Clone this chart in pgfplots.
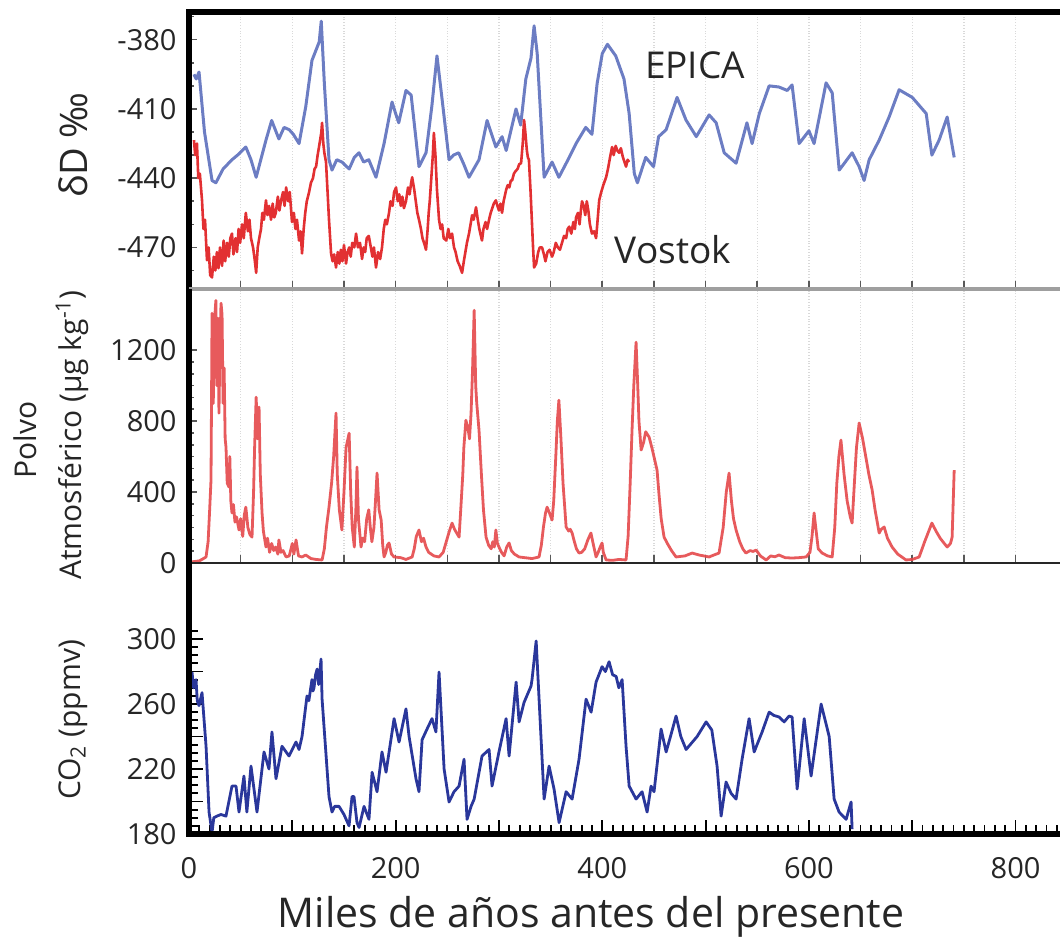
\documentclass[border=0pt]{standalone}
\usepackage{fontspec}
\setmainfont{Open Sans}
\usepackage{pgfplots}
\pgfplotsset{compat=1.18}
\definecolor{epica}{RGB}{82,102,185}
\definecolor{vostok}{RGB}{226,48,50}
\definecolor{dust}{RGB}{228,72,74}
\definecolor{cotwo}{RGB}{42,55,155}
\begin{document}
\begin{tikzpicture}
\useasboundingbox (0,0) rectangle (530pt,470.5pt);
\pgfplotsset{
  base/.style={scale only axis, width=435.5pt, xmin=0, xmax=843, clip=false,
    axis line style={draw=none},
    tick label style={font=\fontsize{14.5}{17}\selectfont, text=black!85},
    yticklabel style={anchor=east, xshift=-2.7pt},
    tick align=inside, xtick pos=left, ytick pos=left},
  upper/.style={base, xtick={0,50,...,800}, xticklabels={}, xmajorgrids,
    grid style={densely dotted, black!15, line width=0.6pt},
    major tick length=4pt, minor tick length=2.5pt,
    every tick/.style={gray!70!black, line width=0.8pt}},
}
% ---------- top panel: deuterium ----------
\begin{axis}[upper, at={(94.5pt,326pt)}, anchor=south west, height=138.5pt,
  ymin=-488, ymax=-368,
  ytick={-380,-410,-440,-470}, yticklabels={-380,-410,-440,-470},
  minor ytick={-480,-470,...,-370}]
\addplot[epica, line width=1.5pt, opacity=0.85, line join=round] coordinates {
(4.8,-395)(7,-397)(9.7,-394)(15,-420)(22.3,-441)(26,-442)(33,-436)(41.6,-432)(47,-430)(55,-426.5)(60,-432)(65,-439.6)(74.5,-423.5)
(80,-415)(87,-423)(92,-418)(97,-419)(101,-421)(106.5,-425)(113,-409)(119,-389)(126,-381)(128,-372)
(131,-399)(135.5,-432)(138.4,-436.5)(143,-432)(148,-433)(155,-436)(160,-431)(164.6,-429)(169,-433)(174,-432)(181,-439.6)
(188.8,-425)(196.5,-407)(200,-412)(203,-416)(210,-402)(215,-404)(222.6,-435)(229.4,-429)(235,-409)
(240,-387)(245,-406)(251.7,-432)(256,-430)(261,-429)(266,-434)(271,-439.6)(280.7,-432)(288.5,-415)(297,-426.5)
(303,-422)(307,-428)(316.5,-410)(321,-417)(326,-397)(331,-388)(334,-374)(337,-386)
(343.7,-439.6)(351.4,-433)(358,-439.6)(368,-431)(374.6,-425)(384,-418)(390,-421)(395,-399)
(400,-386)(405,-382)(413,-387)(421,-397)(426,-412)(431,-438)(434,-442)(442,-431)
(449.6,-435)(454.5,-422)(461.8,-419)(472.4,-405)(481,-414.8)(491,-422)(503.4,-412.6)
(510.2,-416)(518,-429)(529.5,-433.5)(540,-416)(545,-425)(552,-412)(561.5,-400)(571,-400.5)
(579,-402)(583.7,-399.6)(590.5,-425)(600,-419.5)(605,-425)(616.6,-398.7)(622.5,-403)
(629.3,-436.5)(641.8,-429)(648.6,-435)(653.4,-441)(658.3,-432)(668,-423.5)(677.6,-413.5)
(687.3,-401.7)(700,-405)(713.5,-412)(719,-430)(726,-423.5)(733.8,-413.5)(740.6,-431)
};
\addplot[vostok, line width=1.3pt, line join=round] coordinates {
(4.8,-423.5)(6,-430)(7.7,-425)(9,-440)(10.5,-438)(12.6,-449.6)(14,-462)(15.5,-458)
(17.4,-475.6)(19,-470)(20.5,-482)(22.3,-483)(24,-474)(25.5,-480)(27,-472)(28.5,-479)
(30,-470)(32,-478)(33.5,-467)(35,-476)(36.8,-468)(38.5,-474)(40,-466)(41.6,-464)
(43,-473)(45,-466)(46.5,-472)(48,-462)(49.5,-468)(51.3,-460)(53,-466)(55,-455)
(57,-463)(58.5,-458)(60,-466)(62,-470)(63.5,-475)(65,-481)(66.5,-470)(68,-466)
(69.7,-462)(71,-455)(72.5,-458)(74.5,-449.6)(76,-456)(77.5,-452)(79.4,-458)(81,-451)
(82.5,-457)(84,-455)(86,-448)(87.5,-454)(89,-450)(91,-446)(92.5,-452)(94,-444)
(96,-450)(97.5,-446)(99.7,-459)(101.5,-455)(103,-462)(104.5,-458)(106.5,-467)(108,-463)
(109.4,-472.6)(111,-462)(112.5,-455)(114,-450)(116,-446.5)(118,-442)(120,-440)(121.5,-436)
(123,-435)(124.5,-430)(126,-426)(128,-420.4)(128.8,-416)(130,-425)(131,-429)(132.6,-433)
(134,-445)(135.5,-458)(137.5,-472.6)(139,-476)(140.5,-473)(142.3,-478.7)(144,-472)(145.5,-477)
(147,-471)(148.5,-476)(150,-469)(152,-477)(153.5,-472)(155,-470)(156.5,-474)(158,-468)
(160,-470)(161.7,-464)(163.5,-470)(165.5,-468)(167.5,-475)(169,-470)(170.5,-472)(172,-466)
(174,-465)(176,-470)(177.5,-474)(179,-470)(181,-478.7)(183,-472)(185,-475)(186.8,-470)
(188.5,-462)(190,-458)(191.5,-460)(193.6,-455)(195,-450)(197,-452)(198.5,-446)(200.4,-444)
(202,-450)(203.5,-447)(205,-452)(206.5,-448)(208,-453)(210,-450)(212,-444)(213.5,-447)
(215,-442)(216,-439.6)(218,-445)(219.5,-450)(221,-455)(222.6,-458)(224.5,-462)(226,-466)
(227.5,-468)(229.4,-471)(231,-462)(232,-455)(233,-450)(234.5,-440)(236,-430)(237,-420.4)
(238.5,-430)(240,-445)(242,-458)(243.5,-462)(245,-460)(246.5,-466)(249,-467)(251,-462)
(252.5,-466)(254.6,-464)(256.5,-470)(258,-472)(260,-476)(262,-478)(264.3,-481)(266,-476)
(267.5,-472)(269,-468)(271,-464)(272.5,-460)(274,-456)(275.5,-458)(277.8,-452.6)(279.5,-458)
(281,-462)(282.5,-465)(283.6,-467)(285,-462)(287,-459)(288.5,-462)(290.4,-458)(292,-455)
(293.5,-453)(295,-451)(297,-449.6)(298.5,-452)(300,-454)(301.5,-451)(303,-455)(304.5,-450)
(306,-447)(307,-445)(308.5,-443)(310,-444)(311.5,-441)(312.7,-441)(314.5,-438)(316,-437)
(318,-436)(319.5,-434)(321.4,-433.5)(323,-425)(324.3,-414.8)(325.5,-420)(327,-428)(328,-431)
(329,-432)(330.5,-445)(332,-460)(333,-470)(334,-478.7)(336,-477)(338,-472)(339.5,-470)
(341.7,-470)(343.5,-473)(345,-476)(347,-472)(349,-471)(351.4,-474)(353,-472)(355,-468)
(357,-470)(359,-471)(361,-468)(363,-465)(365,-466)(366.5,-462)(368,-461)(370,-464)
(372,-459)(373.5,-462)(374.6,-457)(376.5,-455)(378,-460)(379.5,-453)(380.4,-450)(382,-452)
(383.5,-456)(385,-450)(386.5,-454)(388,-460)(390,-464)(392,-463)(394,-466)(395.5,-458)
(397,-449.6)(399,-446)(401,-443)(403.7,-439.6)(405.5,-436)(407.5,-431)(409.5,-426.5)(411,-430)
(413,-426)(414.5,-428)(416.3,-429)(418,-427)(420,-431)(421.5,-433)(423,-435)(424.5,-432)(426,-433)
};
\draw[line width=3pt, line cap=rect] (rel axis cs:0,0) -- (rel axis cs:0,1) -- (rel axis cs:1,1);
\draw[line width=1.6pt, gray!75] (rel axis cs:0,0) -- (rel axis cs:1,0);
\end{axis}
% ---------- middle panel: dust ----------
\begin{axis}[upper, at={(94.5pt,189pt)}, anchor=south west, height=137pt,
  ymin=0, ymax=1545,
  ytick={0,400,800,1200}, yticklabels={0,400,800,1200}, minor y tick num=5]
\addplot[dust, line width=1.4pt, opacity=0.9, line join=round] coordinates {
(0,5)(5,8)(10,12)(14,25)(16.5,34)(18.5,120)(20,300)(21.3,468)(22,1100)(22.3,1408)(23.5,900)
(24.5,1350)(26,1480)(27,1000)(28,1380)(29,845)(30,1250)(31,1465)(32,1400)(33,900)(34,1100)
(35,700)(35.8,654)(37,450)(38.7,428)(39.5,600)(40.5,350)(41.6,282)(43,330)(44.5,230)(46,260)
(48.4,186)(50,250)(52,150)(53.5,270)(55,315)(57,200)(59,160)(61,146)(62.5,400)(63.5,650)
(65,935)(66.5,700)(67.8,879)(69,500)(70.7,282)(72,180)(74.5,90)(76,140)(78,60)(80,110)
(82,70)(84,90)(86,50)(87,130)(89,60)(91,70)(94,34)(97,40)(100,110)(101.5,50)(103.6,130)
(106,40)(109.4,34)(113,45)(118,25)(123,20)(128.8,17)(131,80)(133,200)(135.5,315)(138,450)
(140,600)(142.3,845)(143.5,500)(145.5,300)(148,186)(150,400)(152,650)(155,732)(156.5,400)
(158,200)(160,90)(161.5,300)(162.6,541)(164,250)(166.5,90)(168,140)(170,120)(172,250)
(174,300)(175.5,200)(177,120)(179,200)(180.5,350)(182,507)(184,300)(186,242)(187.5,100)
(188.8,34)(190.5,60)(192,100)(193.6,113)(196,50)(198.5,34)(205,30)(210,20)(216,34)(218,80)
(220,150)(222.6,186)(225,120)(227,140)(229.4,90)(232,60)(237,40)(242,34)(246,60)(249,120)
(252,180)(254.6,225)(257,190)(259,170)(261.4,146)(263,300)(265,500)(266,650)(268,805)
(270,760)(271.5,700)(273,845)(274.5,1100)(276,1425)(277.5,1000)(278.5,900)(280.7,749)
(283,500)(285,300)(287.5,146)(290,100)(292.5,80)(294,120)(295.5,90)(297,186)(298.5,110)
(300,90)(302.5,60)(305,40)(307.5,90)(309.8,113)(312,70)(315,50)(319.5,34)(325,30)(332,25)
(338.8,34)(341,100)(343,200)(345,280)(346.6,315)(349,280)(351.4,242)(353,350)(355,600)
(356.5,800)(358,918)(360,700)(362,450)(365,203)(367.5,180)(369,190)(370.8,169)(373,120)
(375,80)(377.5,56)(380,60)(383,80)(386,130)(389,169)(391.5,100)(394,34)(396,60)(398,90)
(399.8,113)(401,60)(403.7,17)(410,15)(416,20)(423,17)(425,150)(427,450)(428.8,749)(430.5,1000)
(432.7,1245)(434,1050)(435.5,800)(437.6,637)(440,680)(442,740)(445.3,710)(448,650)(450,600)
(453,524)(455,380)(457,250)(459.8,146)(463,110)(467,70)(471.4,34)(480,40)(487,56)(493.7,45)
(503.4,34)(508,45)(513,56)(517,200)(520,400)(522.7,507)(525,350)(527,250)(529.5,186)(533,120)
(536,80)(539,56)(543,70)(546,65)(548.9,73)(553,40)(558.6,17)(563,40)(567,35)(571,45)(577,30)
(583.7,28)(590,30)(597.3,34)(601,60)(603,150)(605,282)(607,180)(609,80)(612.8,56)(618,40)
(622.5,34)(625,200)(627,450)(629,600)(631,693)(634,500)(637,350)(640,260)(641.8,225)(644,450)
(646,650)(648.6,789)(652,700)(655,600)(658,500)(661.2,411)(664,300)(668,169)(670,190)
(672.8,203)(676,140)(680.5,90)(686,50)(694,17)(700,20)(706.7,34)(712,120)(716,180)(719,225)
(723,180)(727,140)(731,110)(733.8,90)(737,110)(738.6,146)(740.6,524)
};
\draw[line width=3pt] (rel axis cs:0,0) -- (rel axis cs:0,1);
\draw[line width=1pt, black!85] (rel axis cs:0,0) -- (rel axis cs:1,0);
\end{axis}
% ---------- bottom panel: CO2 ----------
\begin{axis}[base, at={(94.5pt,53.5pt)}, anchor=south west, height=135.5pt,
  ymin=180, ymax=346.8,
  xtick={0,200,...,800}, xticklabels={0,200,400,600,800},
  extra x ticks={100,300,500,700}, extra x tick labels={},
  minor xtick={0,10,...,840},
  ytick={180,200,...,300}, yticklabels={180,,220,,260,,300},
  minor ytick={185,190,...,305},
  xticklabel style={anchor=center, yshift=-17pt},
  major tick length=7pt, minor tick length=4.5pt,
  every tick/.style={black, line width=0.9pt}]
\addplot[cotwo, line width=1.4pt, line join=round] coordinates {
(2.9,279.7)(4.5,270)(6.8,275)(8,262)(9.7,259)(12.6,267)(16.5,234)(19.4,193.5)(22.3,181)(24,190)(27,191)(31,192)(35.8,191)
(41.6,209.5)(45.5,209.5)(48.4,193.5)(53.2,215.7)(56,193.5)(60,221.8)(65.8,193.5)(72.6,230.5)
(77.4,220)(80.3,242.8)(84.2,214)(90,234)(96.8,228)(103.6,236.6)(106.5,232)(109.4,240)
(114.2,265)(116,262)(119,275)(120,268)(121,270)(122.5,278)(124,281.5)(125.5,272)(127.8,287.7)(128.8,263)(135.5,203)
(138.4,193.5)(141,197)(145.2,197)(150,192)(154.9,185)(157.8,203)(159.7,203)(162.6,187)(164.6,184)
(169.4,197)(174.2,189)(177.2,218)(182,206)(186.8,230.5)(190.7,218)(198.5,251)(203.3,236.6)
(210,257)(213,240)(219.7,214)(222.6,206)(225.6,238)(230.4,244.6)(235.2,251)(239,242.8)
(242,279.7)(246.9,220)(251.7,199.7)(256.5,206)(261.4,209.5)(266.2,226)(269.1,189)(273,197)
(276,201.5)(283.6,228)(290.4,232)(293.3,209.5)(300,230.5)(306.9,251)(309.8,228)(316.6,273.5)
(319.5,249)(324.3,261)(331,271)(332,275)(336,298.8)(340.8,238)(343.7,201.5)(348.5,221.8)
(353.3,207.7)(358.2,187)(365,206)(370.8,201.5)(377.5,226)(384.3,263)(389.2,255)(394,273.5)
(399.8,283)(403,280)(406.6,286)(410,278)(413.4,277)(416,270)(419.2,275)(423,234)(426,209.5)(432.7,201.5)
(438.5,206)(443.4,193.5)(447.2,209.5)(450.1,206)(456.9,244.6)(461.8,230.5)(466,240)(471.4,252.6)
(476,240)(481.1,232)(491.8,240)(500.5,249)(506,244)(511.1,221.8)(515,191)(519.8,212)(524.7,205)(529.5,201.5)
(535.3,226)(542.1,251)(547,230.5)(554.7,242.8)(561.5,255)(566,253)(571.2,252)(576,249)(580.8,252.6)(583.7,252)
(588.6,207.7)(595.4,251)(602.1,215.7)(611.8,260)(619.6,240)(624.4,201.5)(629.2,193.5)
(636,189)(640.8,199.7)(641.8,183)
};
\draw[line width=3pt, line cap=rect] (rel axis cs:0,1) -- (rel axis cs:0,0) -- (rel axis cs:1,0);
\end{axis}
% ---------- labels ----------
\node[rotate=90, font=\fontsize{19}{22}\selectfont, text=black!85] at (36.5pt,398pt) {δD ‰};
\node[rotate=90, font=\fontsize{15}{18}\selectfont, text=black!85] at (12.5pt,250.5pt) {Polvo};
\node[rotate=90, font=\fontsize{15}{18}\selectfont, text=black!85] at (36pt,253pt) {Atmosférico (µg kg\textsuperscript{-1})};
\node[rotate=90, font=\fontsize{15}{18}\selectfont, text=black!85] at (36.5pt,110.5pt) {CO\textsubscript{2} (ppmv)};
\node[font=\fontsize{18.5}{22}\selectfont, text=black!85] at (347.5pt,438pt) {EPICA};
\node[font=\fontsize{18.5}{22}\selectfont, text=black!85] at (336.5pt,345.5pt) {Vostok};
\node[font=\fontsize{20.5}{24}\selectfont, text=black!85] at (295.5pt,12pt) {Miles de años antes del presente};
\end{tikzpicture}
\end{document}
